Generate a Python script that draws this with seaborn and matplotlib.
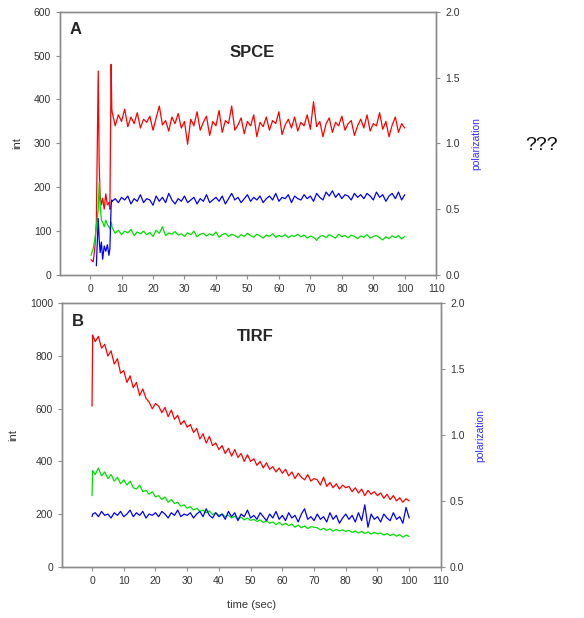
import numpy as np
import pandas as pd
import seaborn as sns
import matplotlib.pyplot as plt

# ---- Panel A (SPCE) ----
t_start_a = [0.3, 1.0, 1.5, 2.0, 2.6, 2.9, 3.2, 3.6, 4.0, 4.5, 5.0, 5.5, 6.0, 6.3, 6.7, 6.9]
time_a = t_start_a + list(range(7, 101))

red_a = [35, 30, 60, 120, 465, 250, 180, 160, 175, 150, 185, 160, 165, 150, 480, 380,
         372, 340, 365, 350, 378, 338, 360, 345, 370, 335,
         355, 348, 362, 330, 358, 385, 342, 352, 328, 360,
         345, 368, 335, 350, 298, 355, 340, 372, 330, 348,
         362, 318, 350, 340, 375, 325, 352, 345, 385, 330,
         342, 358, 322, 350, 340, 365, 315, 348, 338, 360,
         330, 352, 345, 372, 320, 342, 355, 335, 360, 328,
         348, 340, 365, 332, 395, 338, 350, 315, 345, 358,
         325, 348, 340, 362, 330, 345, 352, 318, 340, 355,
         335, 365, 328, 345, 340, 370, 332, 350, 315, 342,
         360, 325, 345, 335]

green_a = [45, 60, 80, 110, 150, 210, 160, 125, 120, 110, 125, 115, 110, 105, 120, 115,
           108, 95, 102, 92, 100, 96, 104, 90, 98, 94,
           100, 92, 97, 88, 102, 95, 110, 90, 96, 93,
           99, 91, 94, 88, 96, 92, 100, 87, 93, 95,
           89, 94, 90, 98, 86, 92, 95, 88, 93, 90,
           85, 92, 88, 95, 90, 86, 93, 89, 84, 91,
           88, 94, 86, 90, 87, 92, 85, 90, 88, 93,
           87, 91, 84, 89, 86, 79, 88, 90, 85, 92,
           88, 84, 93, 87, 90, 85, 91, 88, 83, 89,
           86, 92, 84, 88, 90, 85, 80, 87, 83, 89,
           85, 90, 82, 88]

blue_a = [np.nan, np.nan, np.nan, 0.07, 0.43, 0.27, 0.17, 0.25, 0.12, 0.22, 0.18, 0.23, 0.15, 0.20, 0.53, 0.57,
          0.56, 0.58, 0.55, 0.59, 0.57, 0.60, 0.54, 0.58, 0.56, 0.61,
          0.55, 0.58, 0.57, 0.53, 0.60, 0.56, 0.59, 0.55, 0.62, 0.57,
          0.54, 0.58, 0.56, 0.60, 0.55, 0.57, 0.59, 0.54, 0.58, 0.56,
          0.61, 0.55, 0.57, 0.59, 0.56, 0.60, 0.54, 0.58, 0.62, 0.57,
          0.59, 0.55, 0.58, 0.61, 0.56, 0.59, 0.57, 0.60, 0.55, 0.58,
          0.60, 0.57, 0.62, 0.56, 0.59, 0.58, 0.61, 0.55, 0.60, 0.58,
          0.57, 0.61, 0.58, 0.60, 0.56, 0.62, 0.59, 0.57, 0.63, 0.60,
          0.64, 0.59, 0.62, 0.58, 0.61, 0.60, 0.57, 0.62, 0.59, 0.61,
          0.58, 0.62, 0.60, 0.57, 0.63, 0.59, 0.61, 0.56, 0.60, 0.62,
          0.58, 0.63, 0.57, 0.61]

# ---- Panel B (TIRF) ----
time_b = [0.0, 0.2] + list(range(1, 101))

red_b = [610, 880,
         855, 875, 830, 845, 800, 820, 770, 790, 735, 745,
         700, 725, 680, 700, 650, 675, 640, 625, 600, 620,
         610, 585, 605, 570, 595, 560, 575, 540, 555, 530,
         540, 510, 525, 485, 505, 470, 495, 460, 470, 445,
         460, 430, 450, 420, 445, 415, 430, 400, 425, 400,
         410, 385, 400, 375, 395, 370, 380, 360, 375, 355,
         370, 345, 360, 335, 355, 340, 330, 350, 325, 335,
         330, 310, 340, 305, 320, 300, 315, 295, 310, 300,
         305, 285, 300, 280, 295, 270, 290, 275, 285, 270,
         280, 260, 275, 255, 270, 250, 262, 245, 258, 250]

green_b = [270, 365,
           350, 375, 345, 360, 335, 350, 325, 340, 315, 330,
           310, 325, 300, 295, 310, 285, 290, 275, 285, 265,
           270, 255, 265, 245, 255, 240, 245, 230, 235, 222,
           228, 215, 222, 210, 215, 205, 212, 198, 205, 195,
           200, 190, 196, 185, 192, 182, 188, 178, 185, 176,
           180, 172, 178, 168, 175, 165, 170, 160, 168, 158,
           165, 156, 162, 150, 158, 148, 155, 145, 152, 150,
           148, 140, 146, 138, 144, 135, 142, 136, 140, 134,
           138, 130, 136, 128, 134, 126, 132, 124, 130, 125,
           128, 120, 126, 118, 124, 116, 122, 112, 120, 115]

blue_b = [0.38, 0.40,
          0.41, 0.38, 0.42, 0.39, 0.40, 0.37, 0.41, 0.39, 0.42, 0.38,
          0.40, 0.43, 0.38, 0.41, 0.39, 0.42, 0.37, 0.40, 0.39, 0.41,
          0.38, 0.42, 0.40, 0.37, 0.41, 0.39, 0.43, 0.38, 0.40, 0.39,
          0.41, 0.37, 0.40, 0.42, 0.38, 0.44, 0.39, 0.37, 0.41, 0.38,
          0.40, 0.36, 0.42, 0.38, 0.41, 0.35, 0.40, 0.38, 0.43, 0.37,
          0.39, 0.36, 0.41, 0.38, 0.35, 0.40, 0.37, 0.42, 0.36, 0.39,
          0.35, 0.41, 0.37, 0.39, 0.34, 0.40, 0.44, 0.36, 0.38, 0.35,
          0.40, 0.36, 0.38, 0.34, 0.41, 0.36, 0.39, 0.33, 0.37, 0.40,
          0.36, 0.39, 0.34, 0.41, 0.35, 0.47, 0.30, 0.40, 0.36, 0.38,
          0.34, 0.40, 0.37, 0.35, 0.41, 0.36, 0.38, 0.33, 0.45, 0.37]

x_ticks = list(range(0, 111, 10))
pol_ticks = [0.0, 0.5, 1.0, 1.5, 2.0]

sns.set_style("ticks")
plt.rcParams['font.family'] = ['Liberation Sans', 'DejaVu Sans']

df_a = pd.DataFrame({'time': time_a, 'red': red_a, 'green': green_a, 'blue': blue_a})
df_b = pd.DataFrame({'time': time_b, 'red': red_b, 'green': green_b, 'blue': blue_b})

fig = plt.figure(figsize=(5.84, 6.18), dpi=100)
ax_a = fig.add_axes([0.103, 0.555, 0.644, 0.426])
ax_b = fig.add_axes([0.106, 0.083, 0.649, 0.426])

spine_col = '#8c8c8c'


def style_panel(ax, df, ymax, yticks, letter, title, title_y):
    sns.lineplot(data=df, x='time', y='red', ax=ax, color='#ff0000', lw=0.9)
    sns.lineplot(data=df, x='time', y='green', ax=ax, color='#00e000', lw=0.9)
    ax2 = ax.twinx()
    sns.lineplot(data=df, x='time', y='blue', ax=ax2, color='#0000ff', lw=0.9)
    ax.set_xlim(-9.5, 110)
    ax.set_ylim(0, ymax)
    ax2.set_ylim(0, 2.0)
    ax.set_xticks(x_ticks)
    ax.set_yticks(yticks)
    ax2.set_yticks(pol_ticks)
    ax2.set_yticklabels(['%.1f' % v for v in pol_ticks])
    for a in (ax, ax2):
        for s in a.spines.values():
            s.set_color(spine_col)
            s.set_linewidth(1.0)
        a.tick_params(colors=spine_col, labelcolor='#333333', labelsize=7.5,
                      length=3, width=0.8, direction='out')
    ax.set_xlabel('')
    ax.set_ylabel('int', fontsize=8, color='#333333', labelpad=8)
    ax2.set_ylabel('polarization', fontsize=7.5, color='#3030ff', labelpad=8)
    ax.text(0.025, 0.96, letter, transform=ax.transAxes, fontsize=12,
            fontweight='bold', va='top', ha='left')
    ax.text(0.51, title_y, title, transform=ax.transAxes, fontsize=12,
            fontweight='bold', va='center', ha='center')
    return ax2


style_panel(ax_a, df_a, 600, [0, 100, 200, 300, 400, 500, 600], 'A', 'SPCE', 0.845)
style_panel(ax_b, df_b, 1000, [0, 200, 400, 600, 800, 1000], 'B', 'TIRF', 0.875)
ax_b.set_xlabel('time (sec)', fontsize=8, color='#333333', labelpad=10)

fig.text(0.927, 0.765, '???', fontsize=14, ha='center', va='center', color='#111111')

fig.savefig('out.png', dpi=100)
